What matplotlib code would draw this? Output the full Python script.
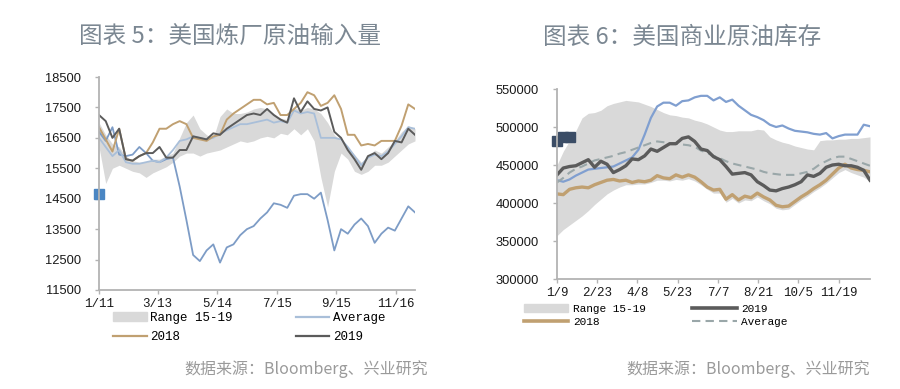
import numpy as np
import pandas as pd
import matplotlib
matplotlib.use("Agg")
import matplotlib.pyplot as plt
from matplotlib.lines import Line2D
from matplotlib.patches import Patch

plt.rcParams['font.family'] = ['Noto Sans CJK SC', 'DejaVu Sans']

# ---- chart 5: US refinery crude input (weekly, 2019 axis) ----
left_dates = pd.date_range('2019-01-11', periods=48, freq='7D')
left_ticks = ['2019-01-11', '2019-03-13', '2019-05-14', '2019-07-15', '2019-09-15', '2019-11-16']
left_ticklabels = ['1/11', '3/13', '5/14', '7/15', '9/15', '11/16']

left_lo = [16200, 15000, 15500, 15600, 15500, 15400, 15350, 15200, 15350, 15450, 15550, 15700,
           15900, 16000, 16000, 15900, 16000, 16050, 16100, 16200, 16300, 16400, 16350, 16400,
           16500, 16550, 16500, 16650, 16600, 16800, 16600, 16800, 16400, 15200, 14230, 15400,
           16000, 15800, 15400, 15300, 15400, 15600, 15600, 15700, 15900, 16100, 16300, 16400]
left_hi = [17000, 16600, 16300, 16200, 15900, 15750, 15700, 15700, 15800, 15800, 15900, 16000,
           16500, 17000, 17250, 16800, 16600, 16500, 17200, 17450, 17300, 17300, 17350, 17450,
           17500, 17450, 17300, 17150, 17100, 17500, 17400, 17500, 17450, 17300, 17000, 16600,
           16400, 16200, 15950, 15700, 15900, 16100, 16000, 16200, 16400, 16700, 16900, 16800]
left_avg = [16500, 16200, 15900, 16100, 15700, 15650, 15650, 15700, 15750, 15700, 15850, 16100,
            16400, 16450, 16550, 16500, 16450, 16500, 16650, 16750, 16850, 16950, 16950, 17000,
            17050, 17100, 17000, 17050, 17000, 17400, 17300, 17350, 17300, 16500, 16500, 16500,
            16450, 16200, 15900, 15600, 15850, 15950, 15900, 16050, 16300, 16550, 16850, 16800]
left_2018 = [16850, 16450, 16050, 16800, 15800, 15750, 15900, 16000, 16350, 16800, 16800, 16950,
             17050, 16950, 16500, 16450, 16400, 16550, 16600, 17100, 17300, 17450, 17600, 17750,
             17750, 17600, 17650, 17250, 17250, 17450, 17650, 18000, 17900, 17550, 17650, 17900,
             17450, 16600, 16600, 16250, 16300, 16250, 16400, 16400, 16400, 16900, 17600, 17450]
left_2019 = [17250, 17050, 16500, 16800, 15800, 15750, 15900, 16000, 16000, 16200, 15850, 15850,
             16100, 16100, 16550, 16500, 16450, 16650, 16600, 16800, 16950, 17100, 17250, 17300,
             17250, 17450, 17250, 17100, 17000, 17800, 17350, 17700, 17450, 17400, 17500, 16700,
             16500, 16100, 15800, 15450, 15900, 16000, 15800, 16000, 16400, 16350, 16800, 16600]
left_2020 = [16700, 16400, 16850, 15950, 15900, 15950, 16200, 16000, 15750, 15700, 15800, 15850,
             14900, 13800, 12650, 12450, 12800, 13000, 12400, 12900, 13000, 13300, 13500, 13600,
             13850, 14050, 14350, 14300, 14200, 14600, 14650, 14650, 14500, 14700, 13800, 12800,
             13500, 13350, 13650, 13850, 13600, 13050, 13350, 13550, 13450, 13850, 14250, 14050]
left_marker = [14650]

# ---- chart 6: US commercial crude stocks (weekly, 2020 axis) ----
right_dates = pd.date_range('2020-01-09', periods=51, freq='7D')
right_ticks = ['2020-01-09', '2020-02-23', '2020-04-08', '2020-05-23', '2020-07-07',
               '2020-08-21', '2020-10-05', '2020-11-19']
right_ticklabels = ['1/9', '2/23', '4/8', '5/23', '7/7', '8/21', '10/5', '11/19']

right_lo = [357, 365, 371, 377, 383, 390, 398, 405, 412, 417, 421, 424, 424, 425, 425, 427, 430,
            430, 429, 431, 430, 432, 429, 424, 418, 413, 413, 401, 406, 400, 404, 403, 408, 403,
            399, 393, 391, 392, 398, 404, 409, 415, 420, 426, 433, 440, 444, 440, 437, 434, 428]
right_hi = [450, 468, 482, 495, 512, 518, 519, 522, 528, 531, 533, 535, 534, 533, 530, 527, 523,
            519, 516, 515, 513, 512, 509, 507, 504, 500, 496, 494, 494, 495, 495, 495, 497, 496,
            487, 483, 480, 478, 475, 473, 471, 470, 482, 483, 483, 484, 484, 485, 485, 486, 487]
right_2019 = [437, 446, 448, 449, 453, 457, 447, 455, 451, 440, 444, 449, 458, 457, 462, 471, 468,
              473, 478, 478, 485, 487, 481, 471, 469, 461, 457, 448, 438, 439, 440, 437, 428, 423,
              417, 416, 419, 421, 424, 428, 437, 435, 439, 447, 450, 451, 449, 449, 447, 443, 430]
right_2018 = [412, 411, 418, 420, 421, 420, 424, 427, 430, 431, 429, 430, 427, 429, 428, 430, 436,
              433, 432, 437, 434, 437, 434, 428, 421, 417, 418, 405, 411, 404, 409, 407, 413, 408,
              404, 397, 395, 396, 402, 408, 413, 419, 424, 430, 438, 446, 451, 446, 444, 443, 441]
right_avg = [427, 433, 440, 445, 448, 452, 456, 458, 460, 462, 465, 467, 470, 473, 476, 479, 481,
             480, 479, 478, 477, 476, 474, 469, 466, 462, 459, 455, 452, 450, 448, 446, 444, 441,
             439, 438, 437, 437, 437, 439, 441, 445, 451, 455, 459, 461, 461, 458, 455, 452, 449]
right_2020 = [430, 428, 431, 436, 440, 444, 445, 446, 447, 448, 452, 456, 460, 470, 490, 512, 527,
              532, 532, 528, 534, 535, 539, 541, 541, 535, 539, 533, 536, 528, 522, 516, 513, 509,
              503, 500, 502, 498, 495, 494, 493, 491, 490, 492, 485, 488, 490, 490, 490, 503, 501]
right_marker = [482, 487, 487]

band_c = '#d9d9d9'
tan_c = '#c0a071'
dark_c = '#5b5b5b'
spine_c = '#b3b3b3'
mono = 'Liberation Mono'

fig = plt.figure(figsize=(9, 3.89), dpi=100)


def style_axes(ax):
    for s in ['top', 'right']:
        ax.spines[s].set_visible(False)
    for s in ['left', 'bottom']:
        ax.spines[s].set_color(spine_c)
        ax.spines[s].set_linewidth(1.3)
    ax.tick_params(axis='y', length=3, width=1, color=spine_c, pad=10, labelsize=9.3,
                   labelcolor='#1a1a1a')
    ax.tick_params(axis='x', length=3, width=1, color=spine_c, pad=3, labelcolor='#1a1a1a')
    for lab in ax.get_yticklabels():
        lab.set_family('Liberation Sans')


# left chart
ax1 = fig.add_axes([99 / 900, 1 - 290 / 389, 316 / 900, 213 / 389])
ax1.fill_between(left_dates, left_lo, left_hi, color=band_c, lw=0)
ax1.plot(left_dates, left_2020, color='#7d9cc6', lw=1.3)
ax1.plot(left_dates, left_avg, color='#a9bfd9', lw=1.3)
ax1.plot(left_dates, left_2018, color=tan_c, lw=1.4)
ax1.plot(left_dates, left_2019, color=dark_c, lw=1.4)
ax1.plot(left_dates[:1], left_marker, 's', color='#4a86c3', ms=7, clip_on=False)
ax1.set_xlim(left_dates[0], left_dates[-1])
ax1.set_ylim(11500, 18500)
ax1.set_yticks(np.arange(11500, 18501, 1000))
ax1.set_xticks(pd.to_datetime(left_ticks))
ax1.set_xticklabels(left_ticklabels, family=mono, fontsize=9)
style_axes(ax1)

# legend fills column by column
h1 = [Patch(color=band_c), Line2D([], [], color=tan_c, lw=1.6),
      Line2D([], [], color='#a9bfd9', lw=1.6), Line2D([], [], color=dark_c, lw=1.6)]
fig.legend(h1, ['Range 15-19', '2018', 'Average', '2019'], ncol=2, loc='upper left',
           bbox_to_anchor=(113 / 900, 1 - 312 / 389), frameon=False, borderpad=0,
           borderaxespad=0, handlelength=2.7, handletextpad=0.3, columnspacing=5.0,
           labelspacing=0.55, prop={'family': mono, 'size': 9})

# right chart
ax2 = fig.add_axes([557 / 900, 1 - 279 / 389, 313 / 900, 190 / 389])
ax2.fill_between(right_dates, np.array(right_lo) * 1000, np.array(right_hi) * 1000,
                 color=band_c, lw=0)
ax2.plot(right_dates, np.array(right_2020) * 1000, color='#809fd0', lw=1.6)
ax2.plot(right_dates, np.array(right_avg) * 1000, color='#9aa7a9', lw=1.5, ls=(0, (4, 2.5)))
ax2.plot(right_dates, np.array(right_2018) * 1000, color=tan_c, lw=2.4)
ax2.plot(right_dates, np.array(right_2019) * 1000, color=dark_c, lw=2.4)
ax2.plot(right_dates[:3], np.array(right_marker) * 1000, 's', color='#3b4d66', ms=7,
         clip_on=False)
ax2.set_xlim(right_dates[0], right_dates[-1])
ax2.set_ylim(300000, 550000)
ax2.set_yticks(np.arange(300000, 550001, 50000))
ax2.set_xticks(pd.to_datetime(right_ticks))
ax2.set_xticklabels(right_ticklabels, family=mono, fontsize=9)
style_axes(ax2)

h2 = [Patch(color=band_c), Line2D([], [], color=tan_c, lw=2.6),
      Line2D([], [], color=dark_c, lw=2.6),
      Line2D([], [], color='#9aa7a9', lw=1.5, ls=(0, (4, 2.5)))]
fig.legend(h2, ['Range 15-19', '2018', '2019', 'Average'], ncol=2, loc='upper left',
           bbox_to_anchor=(524 / 900, 1 - 304 / 389), frameon=False, borderpad=0,
           borderaxespad=0, handlelength=4.0, handletextpad=0.4, columnspacing=4.2,
           labelspacing=0.3, prop={'family': mono, 'size': 8})

# titles and sources
title_c = '#7b8792'
fig.text(230 / 900, 1 - 37 / 389, '图表 5：美国炼厂原油输入量', ha='center', va='center',
         fontsize=17, color=title_c, fontweight='medium')
fig.text(682 / 900, 1 - 37 / 389, '图表 6：美国商业原油库存', ha='center', va='center',
         fontsize=17, color=title_c, fontweight='medium')
fig.text(428 / 900, 1 - 369 / 389, '数据来源：Bloomberg、兴业研究', ha='right', va='center',
         fontsize=11.5, color='#9a9a9a')
fig.text(870 / 900, 1 - 369 / 389, '数据来源：Bloomberg、兴业研究', ha='right', va='center',
         fontsize=11.5, color='#9a9a9a')

fig.savefig('out.png', dpi=100)
